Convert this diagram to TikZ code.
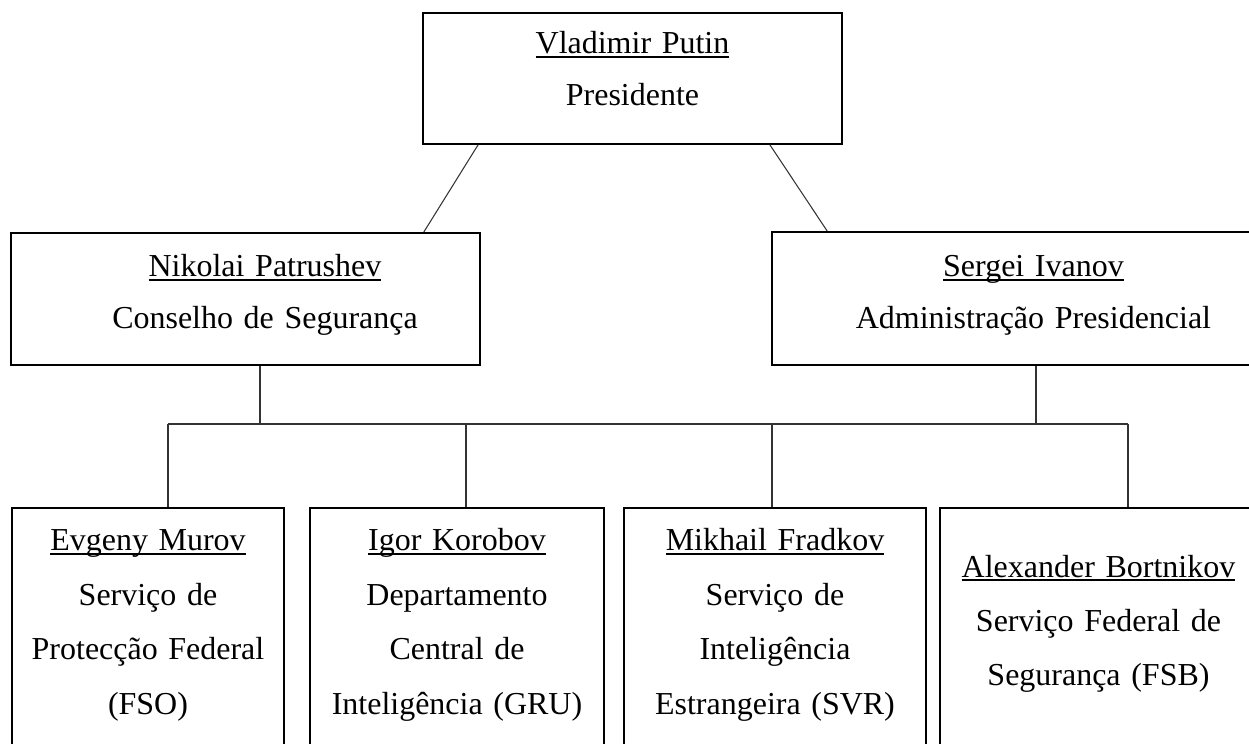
\documentclass[tikz,border=0pt]{standalone}
\usepackage{fontspec}
\setmainfont{Liberation Serif}
\usetikzlibrary{positioning, calc}

\newsavebox\namebox
\newcommand{\pname}[1]{\sbox\namebox{#1}\rlap{\rule[-2.2pt]{\wd\namebox}{1.1pt}}\usebox\namebox}
\newcommand{\ind}{\hspace*{0.78cm}}

\begin{document}
\begin{tikzpicture}[x=0.02cm, y=-0.02cm,
  box/.style={rectangle, draw=black, line width=1pt, inner sep=0pt, anchor=north, align=center, font=\fontsize{18.2}{29.6}\selectfont},
  topbox/.style={box, text depth=1.76cm},
  lowbox/.style={box, font=\fontsize{18.2}{31}\selectfont, text height=0.86cm, text depth=4.4cm},
  link/.style={draw=black!80, line width=0.6pt}
]
  \useasboundingbox (0,0) rectangle (1249,744);

  % Top
  \node[box, text width=8.38cm, text height=0.82cm, text depth=1.80cm] (putin) at (632.5,12) {\pname{Vladimir Putin}\\Presidente};

  % Second level
  \node[topbox, text width=9.38cm, text height=0.88cm] (nikolai) at (245.5,232) {\ind\pname{Nikolai Patrushev}\\\ind Conselho de Segurança};
  \node[topbox, text width=9.68cm, text height=0.90cm] (sergei) at (1014,231) {\ind\pname{Sergei Ivanov}\\\ind Administração Presidencial};

  % Agencies
  \node[lowbox, text width=5.44cm] (evgeny) at (148,507) {\pname{Evgeny Murov}\\Serviço de\\Protecção Federal\\(FSO)};
  \node[lowbox, text width=5.88cm] (igor) at (457,507) {\pname{Igor Korobov}\\Departamento\\Central de\\Inteligência (GRU)};
  \node[lowbox, text width=6.04cm] (mikhail) at (775,507) {\pname{Mikhail Fradkov}\\Serviço de\\Inteligência\\Estrangeira (SVR)};
  \node[lowbox, text width=6.34cm, text height=1.38cm, text depth=3.88cm, line width=1.2pt] (alexander) at (1098.5,507) {\pname{Alexander Bortnikov}\\Serviço Federal de\\Segurança (FSB)};

  % Bus points
  \coordinate (jn) at (260,424);
  \coordinate (js) at (1036,424);
  \coordinate (d1) at (168,424);
  \coordinate (d2) at (466,424);
  \coordinate (d3) at (772,424);
  \coordinate (d4) at (1128,424);

  % Lines
  \draw[link] ([xshift=1.12cm]putin.south west) -- ([xshift=-1.14cm]nikolai.north east);
  \draw[link] ([xshift=-1.46cm]putin.south east) -- ([xshift=1.12cm]sergei.north west);
  \draw[link] (nikolai.south -| jn) -- (jn);
  \draw[link] (sergei.south -| js) -- (js);
  \draw[link] (d1) -- (d4);
  \draw[link] (d1) -- (d1 |- evgeny.north);
  \draw[link] (d2) -- (d2 |- igor.north);
  \draw[link] (d3) -- (d3 |- mikhail.north);
  \draw[link] (d4) -- (d4 |- alexander.north);
\end{tikzpicture}
\end{document}
